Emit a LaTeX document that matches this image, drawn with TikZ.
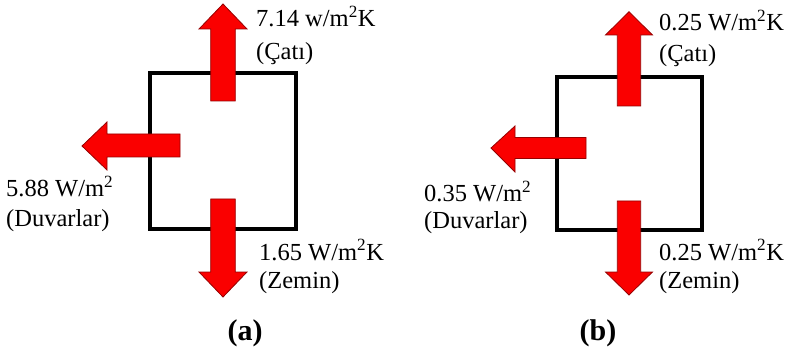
\documentclass[tikz,border=0pt]{standalone}
\usepackage{fontspec}
\setmainfont{Liberation Serif}
\begin{document}
\begin{tikzpicture}[x=1pt,y=-1pt,
  lbl/.style={inner sep=0pt,anchor=base west,font=\fontsize{24.5}{30}\selectfont},
  subcap/.style={inner sep=0pt,anchor=base,font=\fontsize{30}{36}\selectfont\bfseries},
  room/.style={draw=black,line width=4pt},
  heat/.style={fill={rgb,255:red,250;green,0;blue,0},draw={rgb,255:red,150;green,0;blue,0},line width=0.8pt,line join=miter}]
\useasboundingbox (0,0) rectangle (789,355);
% ---------- (a) ----------
\draw[room] (150,73) rectangle (296,229);
\draw[heat] (223,4) -- (247,29) -- (235.3,29) -- (235.3,101) -- (210.7,101) -- (210.7,29) -- (199,29) -- cycle;
\draw[heat] (82,146) -- (107,122) -- (107,134) -- (180,134) -- (180,157) -- (107,157) -- (107,170) -- cycle;
\draw[heat] (223,297) -- (247,272) -- (235.3,272) -- (235.3,199) -- (210.7,199) -- (210.7,272) -- (199,272) -- cycle;
\node[lbl] (a1) at (256,27) {7.14 w/m\textsuperscript{2}K};
\node[lbl] (a2) at (256,60) {(Çatı)};
\node[lbl] (a3) at (6,197) {5.88 W/m\textsuperscript{2}};
\node[lbl] (a4) at (6,227) {(Duvarlar)};
\node[lbl] (a5) at (259,260) {1.65 W/m\textsuperscript{2}K};
\node[lbl] (a6) at (259,288) {(Zemin)};
\node[subcap] (ca) at (245,340) {(a)};
% ---------- (b) ----------
\draw[room] (557,77) rectangle (702,230);
\draw[heat] (629,11.7) -- (652.5,35) -- (640.7,35) -- (640.7,106) -- (617.3,106) -- (617.3,35) -- (605.5,35) -- cycle;
\draw[heat] (491,148) -- (515,126) -- (515,137.5) -- (586,137.5) -- (586,158.5) -- (515,158.5) -- (515,172) -- cycle;
\draw[heat] (629,295) -- (652.5,272) -- (640.7,272) -- (640.7,201) -- (617.3,201) -- (617.3,272) -- (605.5,272) -- cycle;
\node[lbl] (b1) at (659,31) {0.25 W/m\textsuperscript{2}K};
\node[lbl] (b2) at (659,62) {(Çatı)};
\node[lbl] (b3) at (424,201.5) {0.35 W/m\textsuperscript{2}};
\node[lbl] (b4) at (424,229) {(Duvarlar)};
\node[lbl] (b5) at (659,260) {0.25 W/m\textsuperscript{2}K};
\node[lbl] (b6) at (659,288) {(Zemin)};
\node[subcap] (cb) at (598,340) {(b)};
\end{tikzpicture}
\end{document}
